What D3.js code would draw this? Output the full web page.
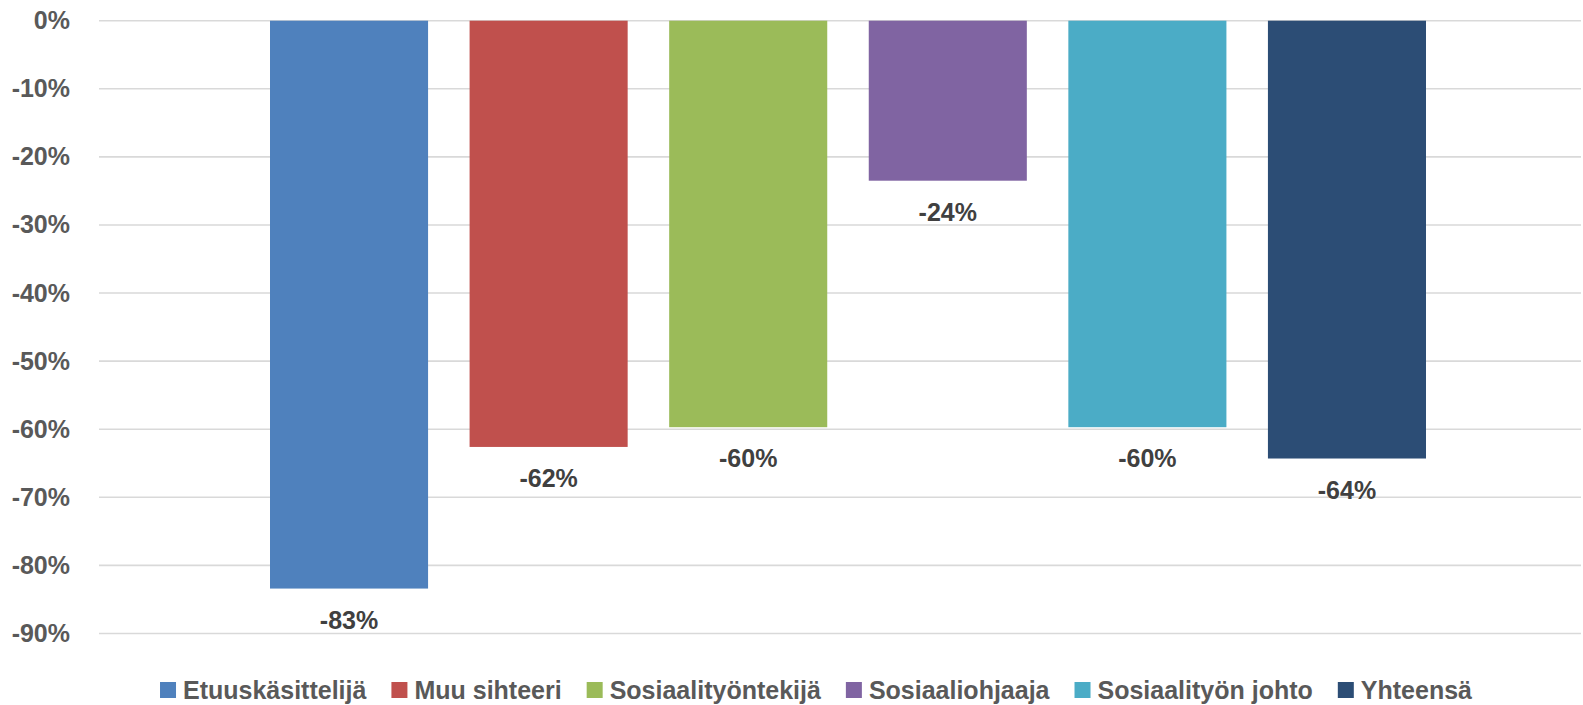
<!DOCTYPE html>
<html>
<head>
<meta charset="utf-8">
<script src="https://cdn.jsdelivr.net/npm/d3@7/dist/d3.min.js"></script>
<style>
  html, body { margin: 0; padding: 0; background: #fff; }
  svg { display: block; }
  text { font-family: "Liberation Sans", Arial, sans-serif; font-weight: bold; }
</style>
</head>
<body>
<svg id="chart" width="1583" height="705"></svg>
<script>
// ---- data ----
const series = ["Etuuskäsittelijä", "Muu sihteeri", "Sosiaalityöntekijä", "Sosiaaliohjaaja", "Sosiaalityön johto", "Yhteensä"];
const values = [-83.4, -62.6, -59.7, -23.5, -59.7, -64.3];
const labels = ["-83%", "-62%", "-60%", "-24%", "-60%", "-64%"];
const colors = ["#4f81bd", "#c0504d", "#9bbb59", "#8064a2", "#4bacc6", "#2c4d75"];
const yTicks = [0, -10, -20, -30, -40, -50, -60, -70, -80, -90];

// ---- layout ----
const svg = d3.select("#chart");
const plotLeft = 99, plotRight = 1581;
const y = d3.scaleLinear().domain([0, -90]).range([20.7, 633.5]);
const x = d3.scaleBand().domain(series).range([270, 1426]).paddingInner(0.208).paddingOuter(0);

// gridlines
svg.append("g").selectAll("line").data(yTicks).join("line")
  .attr("x1", plotLeft).attr("x2", plotRight)
  .attr("y1", d => y(d)).attr("y2", d => y(d))
  .attr("stroke", "#d9d9d9").attr("stroke-width", 1.6);

// y axis labels
const yAxis = d3.axisLeft(y).tickValues(yTicks).tickFormat(d => d + "%").tickSize(0).tickPadding(0);
const ga = svg.append("g").attr("transform", `translate(70,0)`).call(yAxis);
ga.select(".domain").remove();
ga.selectAll("text").attr("font-size", 25).attr("fill", "#595959")
  .attr("font-family", '"Liberation Sans", Arial, sans-serif').attr("font-weight", "bold");

// bars
svg.append("g").selectAll("rect").data(series).join("rect")
  .attr("x", d => x(d))
  .attr("width", x.bandwidth())
  .attr("y", (d, i) => y(0))
  .attr("height", (d, i) => y(values[i]) - y(0))
  .attr("fill", (d, i) => colors[i]);

// data labels
svg.append("g").selectAll("text").data(series).join("text")
  .attr("x", d => x(d) + x.bandwidth() / 2)
  .attr("y", (d, i) => y(values[i]) + 31)
  .attr("text-anchor", "middle").attr("dominant-baseline", "central")
  .attr("font-size", 25).attr("fill", "#404040")
  .text((d, i) => labels[i]);

// legend
const leg = svg.append("g");
const items = leg.selectAll("g").data(series).join("g");
items.append("rect").attr("width", 16).attr("height", 16).attr("y", -8).attr("fill", (d, i) => colors[i]);
items.append("text").attr("x", 23).attr("dominant-baseline", "central")
  .attr("font-size", 25).attr("fill", "#595959").text(d => d);
const gap = 25;
let cx = 0;
const offs = [];
items.each(function () {
  const w = d3.select(this).select("text").node().getComputedTextLength();
  offs.push(cx);
  cx += 23 + w + gap;
});
const total = cx - gap;
const startX = 816 - total / 2;
items.attr("transform", (d, i) => `translate(${startX + offs[i]},690)`);
</script>
</body>
</html>
